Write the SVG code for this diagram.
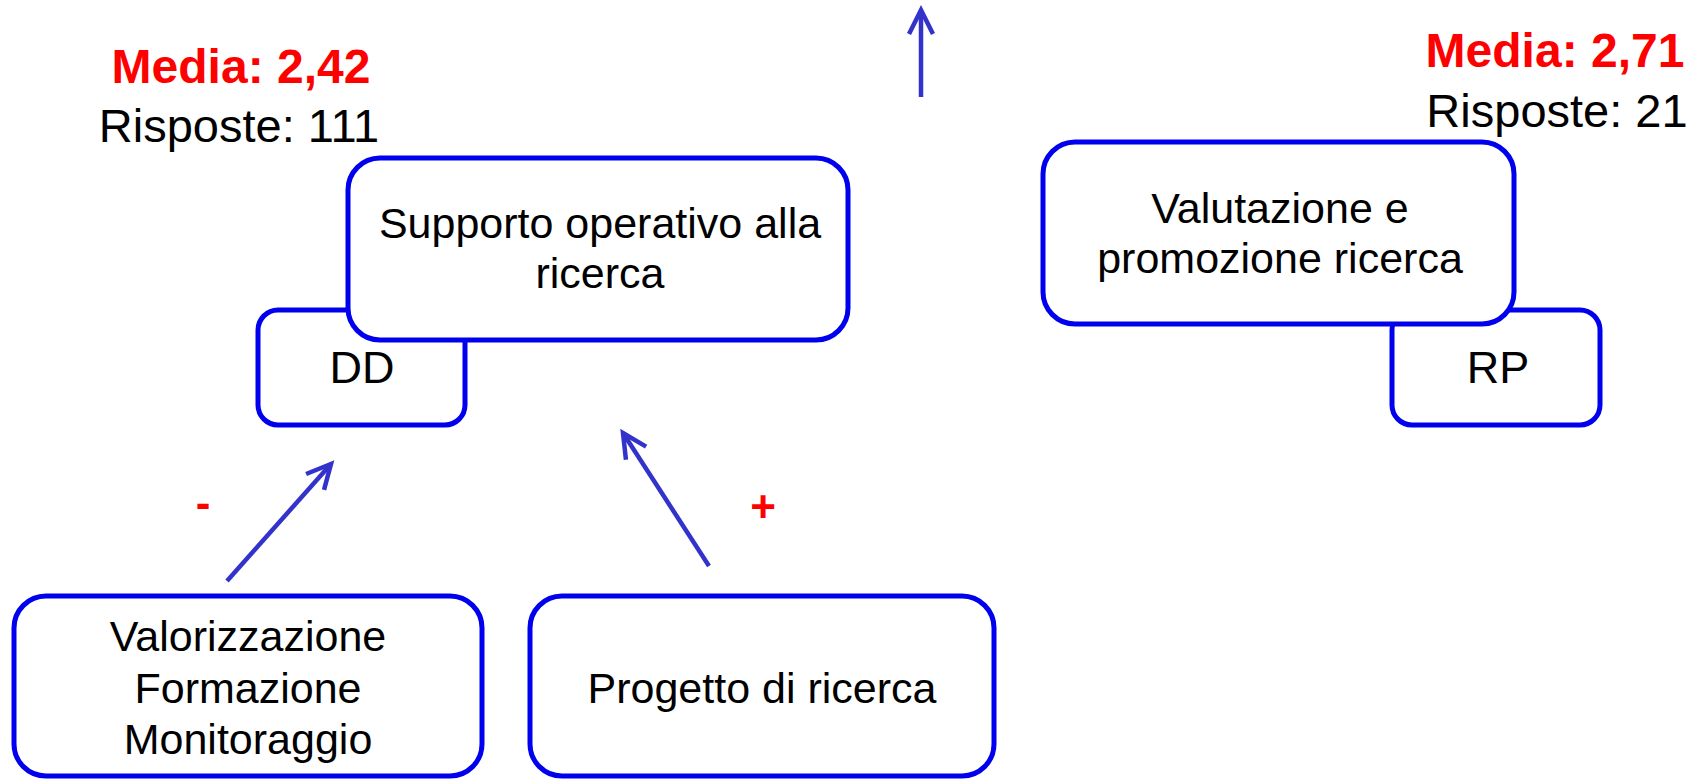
<svg xmlns="http://www.w3.org/2000/svg" width="1693" height="779" viewBox="0 0 1693 779">
<style>
.box{fill:#fff;stroke:#0000ee;stroke-width:5}
.t{font-family:"Liberation Sans",Arial,sans-serif;font-size:43px;fill:#000;text-anchor:middle}
.m{font-family:"Liberation Sans",Arial,sans-serif;font-size:48px;font-weight:bold;fill:#ff0000;text-anchor:middle}
.r{font-family:"Liberation Sans",Arial,sans-serif;font-size:47px;fill:#000;text-anchor:middle}
.s{font-family:"Liberation Sans",Arial,sans-serif;font-size:44px;font-weight:bold;fill:#ff0000;text-anchor:middle}
.c{fill:none;stroke:#3333cc;stroke-width:4.5;stroke-linecap:butt}
</style>
<defs>
<marker id="ah" markerUnits="userSpaceOnUse" markerWidth="40" markerHeight="40" refX="0" refY="0" viewBox="-30 -20 40 40" orient="auto" overflow="visible">
<path d="M-24,-12 L0,0 L-24,12" fill="none" stroke="#3333cc" stroke-width="4.5" stroke-linejoin="miter"/>
</marker>
</defs>
<g id="labels">
<text class="m" x="241" y="83">Media: 2,42</text>
<text class="r" x="239" y="142">Risposte: 111</text>
<text class="m" x="1555" y="67">Media: 2,71</text>
<text class="r" x="1557" y="127">Risposte: 21</text>
<text class="s" x="203" y="518">-</text>
<text class="s" x="763" y="522">+</text>
</g>
<g id="node-dd">
<rect class="box" x="258" y="310" width="207" height="115" rx="20"/>
<text class="t" x="362" y="383" style="font-size:45px">DD</text>
</g>
<g id="node-supporto">
<rect class="box" x="348" y="158" width="500" height="182" rx="32"/>
<text class="t" x="600" y="238">Supporto operativo alla</text>
<text class="t" x="600" y="288">ricerca</text>
</g>
<g id="node-rp">
<rect class="box" x="1392" y="310" width="208" height="115" rx="20"/>
<text class="t" x="1498" y="383" style="font-size:45px">RP</text>
</g>
<g id="node-valutazione">
<rect class="box" x="1043" y="142" width="471" height="182" rx="32"/>
<text class="t" x="1280" y="223">Valutazione e</text>
<text class="t" x="1280" y="273">promozione ricerca</text>
</g>
<g id="node-valorizzazione">
<rect class="box" x="14" y="596" width="468" height="180" rx="32"/>
<text class="t" x="248" y="651">Valorizzazione</text>
<text class="t" x="248" y="703">Formazione</text>
<text class="t" x="248" y="754">Monitoraggio</text>
</g>
<g id="node-progetto">
<rect class="box" x="530" y="596" width="464" height="180" rx="32"/>
<text class="t" x="762" y="703">Progetto di ricerca</text>
</g>
<g id="connectors">
<line class="c" x1="921" y1="97" x2="921" y2="10" marker-end="url(#ah)"/>
<line class="c" x1="227" y1="581" x2="331" y2="464" marker-end="url(#ah)"/>
<line class="c" x1="709" y1="566" x2="623" y2="433" marker-end="url(#ah)"/>
</g>
</svg>
